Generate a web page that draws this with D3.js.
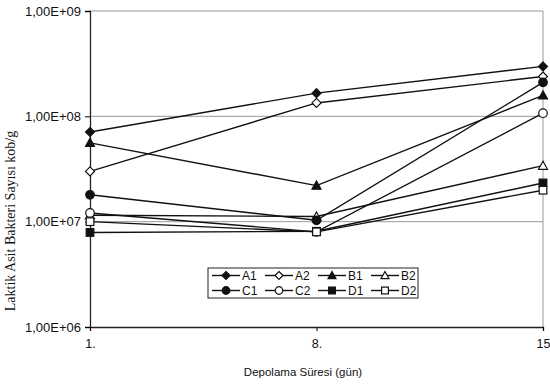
<!DOCTYPE html>
<html>
<head>
<meta charset="utf-8">
<script src="https://cdn.jsdelivr.net/npm/d3@7"></script>
<style>
  body { margin: 0; background: #fff; }
  text { font-family: Arial, "Liberation Sans", sans-serif; }
</style>
</head>
<body>
<div id="chart"></div>
<script>
// days on the x axis
var days = [1, 8, 15];
var dayLabels = ["1.", "8.", "15"];
var yTicks = [1e6, 1e7, 1e8, 1e9];
var yTickLabels = ["1,00E+06", "1,00E+07", "1,00E+08", "1,00E+09"];

// series (kob/g)
var seriesNames = ["A1", "A2", "B1", "B2", "C1", "C2", "D1", "D2"];
var A1 = [7.1e7, 1.66e8, 2.98e8];
var A2 = [3.0e7, 1.34e8, 2.39e8];
var B1 = [5.6e7, 2.2e7, 1.58e8];
var B2 = [1.15e7, 1.12e7, 3.4e7];
var C1 = [1.8e7, 1.03e7, 2.1e8];
var C2 = [1.21e7, 8.0e6, 1.07e8];
var D1 = [7.9e6, 8.1e6, 2.33e7];
var D2 = [1.0e7, 8.0e6, 1.99e7];
var seriesValues = [A1, A2, B1, B2, C1, C2, D1, D2];

var markerShapes = ["diamond", "diamond", "triangle", "triangle", "circle", "circle", "square", "square"];
var markerFilled = [true, false, true, false, true, false, true, false];

var svgWidth = 550, svgHeight = 384;
var margin = {top: 11, right: 7, bottom: 57, left: 90};
var width = svgWidth - margin.left - margin.right;
var height = svgHeight - margin.top - margin.bottom;

var svg = d3.select("#chart").append("svg")
  .attr("width", svgWidth)
  .attr("height", svgHeight);

var g = svg.append("g")
  .attr("transform", `translate(${margin.left}, ${margin.top})`);

var x = d3.scaleLinear().domain([1, 15]).range([0, width]);
var y = d3.scaleLog().domain([1e6, 1e9]).range([height, 0]);

// gridlines
g.selectAll(".grid").data(yTicks.slice(1)).enter().append("line")
  .attr("x1", 0).attr("x2", width)
  .attr("y1", d => y(d)).attr("y2", d => y(d))
  .attr("stroke", "#999").attr("stroke-width", 1);

// right border
g.append("line")
  .attr("x1", width).attr("x2", width).attr("y1", 0).attr("y2", height)
  .attr("stroke", "#999");

// y axis
var yAxis = d3.axisLeft(y).tickValues(yTicks)
  .tickFormat((d, i) => yTickLabels[i]).tickSize(5).tickPadding(4);
var yg = g.append("g").call(yAxis);
yg.select(".domain").attr("stroke", "#222").attr("stroke-width", 1.3);
yg.selectAll("text").attr("font-size", 13).attr("fill", "#111");

// x axis
var xAxis = d3.axisBottom(x).tickValues(days)
  .tickFormat((d, i) => dayLabels[i]).tickSize(4).tickPadding(8);
var xg = g.append("g").attr("transform", `translate(0, ${height})`).call(xAxis);
xg.select(".domain").attr("stroke", "#222").attr("stroke-width", 1.3);
xg.selectAll("text").attr("font-size", 12.5).attr("fill", "#111");

// lines
var line = d3.line().x((d, i) => x(days[i])).y(d => y(d));
g.selectAll(".series").data(seriesValues).enter().append("path")
  .attr("d", d => line(d))
  .attr("fill", "none").attr("stroke", "#111").attr("stroke-width", 1.4);

// marker drawing
function drawMarker(sel, shape, filled, s) {
  var fill = filled ? "#111" : "#fff";
  if (shape === "diamond") {
    sel.append("path").attr("d", `M0,${-s}L${s},0L0,${s}L${-s},0Z`);
  } else if (shape === "triangle") {
    sel.append("path").attr("d", `M0,${-s}L${s},${s*0.8}L${-s},${s*0.8}Z`);
  } else if (shape === "circle") {
    sel.append("circle").attr("r", s * 0.95);
  } else {
    sel.append("rect").attr("x", -s * 0.85).attr("y", -s * 0.85).attr("width", s * 1.7).attr("height", s * 1.7);
  }
  sel.selectAll("*").attr("fill", fill).attr("stroke", "#111").attr("stroke-width", 1.2);
}

seriesValues.forEach(function(vals, k) {
  vals.forEach(function(v, i) {
    var m = g.append("g").attr("transform", `translate(${x(days[i])}, ${y(v)})`);
    drawMarker(m, markerShapes[k], markerFilled[k], 4.5);
  });
});

// legend
var legend = svg.append("g").attr("transform", "translate(208, 268)");
legend.append("rect").attr("width", 210).attr("height", 30)
  .attr("fill", "#fff").attr("stroke", "#222").attr("stroke-width", 1);
seriesNames.forEach(function(name, k) {
  var col = k % 4, row = Math.floor(k / 4);
  var lx = 4 + col * 53, ly = 7.5 + row * 15;
  var it = legend.append("g").attr("transform", `translate(${lx}, ${ly})`);
  it.append("line").attr("x1", 0).attr("x2", 28).attr("y1", 0).attr("y2", 0)
    .attr("stroke", "#111").attr("stroke-width", 1.4);
  var m = it.append("g").attr("transform", "translate(14, 0)");
  drawMarker(m, markerShapes[k], markerFilled[k], 4);
  it.append("text").attr("x", 30).attr("y", 4.5).attr("font-size", 12).attr("fill", "#111").text(name);
});

// axis titles
svg.append("text")
  .attr("x", 303).attr("y", 376)
  .attr("text-anchor", "middle").attr("font-size", 11.5).attr("fill", "#111")
  .text("Depolama Süresi (gün)");

svg.append("text")
  .attr("transform", "translate(15, 221) rotate(-90)")
  .attr("text-anchor", "middle").attr("font-size", 14).attr("fill", "#111")
  .style("font-family", "'Liberation Serif', 'DejaVu Serif', serif")
  .text("Laktik Asit Bakteri Sayısı  kob/g");
</script>
</body>
</html>
